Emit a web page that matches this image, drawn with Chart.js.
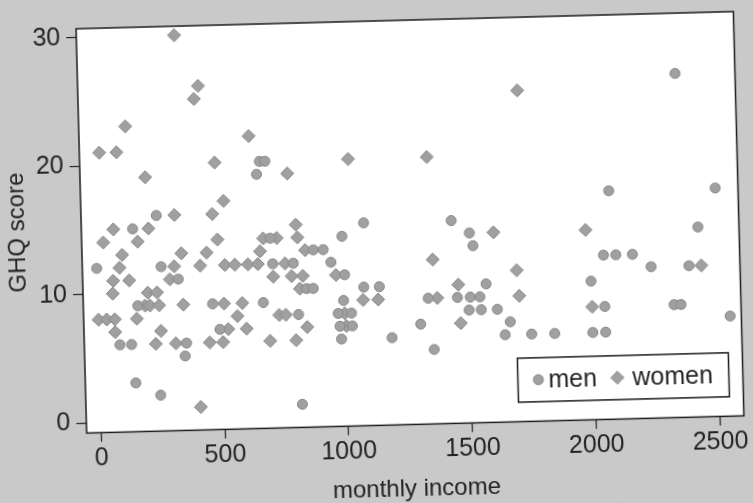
<!DOCTYPE html>
<html>
<head>
<meta charset="utf-8">
<title>GHQ score by monthly income</title>
<script src="https://cdn.jsdelivr.net/npm/chart.js@4"></script>
<style>
  html, body { margin: 0; padding: 0; width: 753px; height: 503px; overflow: hidden; background: #c9c9c9; }
  #wrap { position: absolute; left: 0; top: 0; width: 753px; height: 503px; transform: rotate(-1.5deg); }
  canvas { display: block; }
</style>
</head>
<body>
<div id="wrap"><canvas id="chart" width="753" height="503"></canvas></div>
<script>
// Axis ticks
const xTicks = [0, 500, 1000, 1500, 2000, 2500];
const yTicks = [0, 10, 20, 30];

// Men: monthly income and GHQ score
const menIncome = [668, 690, 655, 246, 1082, 149, 703, 993, 876, 916, 946, 0, 260, 711, 794, 1000, 328,
  845, 872, 1076, 1139, 993, 162, 464, 669, 810, 970, 1024, 976, 1026, 491, 981, 86, 133, 355, 1185,
  348, 146, 245, 816, 2075, 2505, 1436, 1508, 1521, 2431, 2047, 2097, 2164, 2238, 2391, 1570, 1994,
  1335, 1453, 1505, 1544, 1499, 1548, 1613, 2047, 2327, 2355, 2552, 1302, 1664, 1354, 1642, 1749,
  1842, 1996, 2048, 2355];
const menGHQ = [20, 20, 19, 16, 15, 15, 14, 14, 13, 13, 12, 12, 12, 12, 12, 11, 11,
  10, 10, 10, 10, 9, 9, 9, 9, 8, 8, 8, 7, 7, 7, 6, 6, 6, 6, 6,
  5, 3, 2, 1, 17, 17, 15, 14, 13, 14, 12, 12, 12, 11, 11, 10, 10,
  9, 9, 9, 9, 8, 8, 8, 8, 8, 8, 7, 7, 7, 5, 6, 6,
  6, 6, 6, 26];

// Women: monthly income and GHQ score
const womenIncome = [337, 428, 410, 130, 22, 92, 205, 627, 487, 779, 1026, 519, 319, 472, 808, 71, 213,
  29, 168, 490, 675, 730, 813, 104, 343, 445, 661, 843, 92, 313, 418, 518, 558, 611, 651, 761, 965,
  65, 130, 294, 712, 786, 831, 818, 62, 204, 241, 1072, 1133, 191, 211, 248, 346, 510, 584, 732, 759,
  997, 563, 2, 35, 68, 157, 1002, 844, 525, 599, 68, 253, 693, 798, 231, 312, 449, 503, 406,
  1344, 1605, 1977, 1357, 2441, 1695, 1458, 1372, 1703, 1996, 1464, 1716];
const womenGHQ = [30, 26, 25, 23, 21, 21, 19, 22, 20, 19, 20, 17, 16, 16, 15, 15, 15,
  14, 14, 14, 14, 14, 14, 13, 13, 13, 13, 13, 12, 12, 12, 12, 12, 12, 12, 12, 11,
  11, 11, 11, 11, 11, 11, 10, 10, 10, 10, 9, 9, 9, 9, 9, 9, 9, 9, 8, 8,
  8, 8, 8, 8, 8, 8, 7, 7, 7, 7, 7, 7, 6, 6, 6, 6, 6, 6, 1,
  20, 14, 14, 12, 11, 11, 10, 9, 9, 8, 7, 25];

const toPoints = (xs, ys) => xs.map((x, i) => ({ x: x, y: ys[i] }));

const FONT = "'Liberation Sans', Arial, Helvetica, sans-serif";
const INK = '#232323';
const MARK_FILL = '#a0a0a0';
const MARK_EDGE = '#878787';

// White plotting region on the grey page
const plotBackground = {
  id: 'plotBackground',
  beforeDraw(chart) {
    const { ctx, chartArea: a } = chart;
    ctx.save();
    ctx.fillStyle = '#c9c9c9';
    ctx.fillRect(0, 0, chart.width, chart.height);
    ctx.fillStyle = '#ffffff';
    ctx.fillRect(a.left, a.top, a.right - a.left, a.bottom - a.top);
    ctx.restore();
  }
};

// Box around the plotting region
const plotFrame = {
  id: 'plotFrame',
  afterDatasetsDraw(chart) {
    const { ctx, chartArea: a } = chart;
    ctx.save();
    ctx.strokeStyle = '#1b1b1b';
    ctx.lineWidth = 1.5;
    ctx.strokeRect(a.left, a.top, a.right - a.left, a.bottom - a.top);
    ctx.restore();
  }
};

// Boxed legend inside the lower-right corner of the plot
const boxedLegend = {
  id: 'boxedLegend',
  afterDraw(chart) {
    const { ctx, chartArea: a } = chart;
    const w = 211, h = 44;
    const right = a.right - 14, bottom = a.bottom - 19.5;
    const left = right - w, top = bottom - h;
    const cy = top + h / 2;
    ctx.save();
    ctx.fillStyle = '#ffffff';
    ctx.fillRect(left, top, w, h);
    ctx.strokeStyle = '#1b1b1b';
    ctx.lineWidth = 1.5;
    ctx.strokeRect(left, top, w, h);
    ctx.font = '25px ' + FONT;
    ctx.textBaseline = 'middle';
    ctx.textAlign = 'left';
    const slots = [
      { marker: left + 20.5, text: left + 30.5 },
      { marker: left + 99.5, text: left + 114.5 }
    ];
    chart.data.datasets.forEach((ds, i) => {
      const s = slots[i];
      ctx.fillStyle = ds.backgroundColor;
      ctx.strokeStyle = ds.borderColor;
      ctx.lineWidth = ds.borderWidth;
      Chart.helpers.drawPoint(ctx, {
        pointStyle: ds.pointStyle, radius: ds.pointRadius, borderWidth: ds.borderWidth, rotation: 0
      }, s.marker, cy);
      ctx.fillStyle = INK;
      ctx.fillText(ds.label, s.text, cy + 1);
    });
    ctx.restore();
  }
};

new Chart(document.getElementById('chart'), {
  type: 'scatter',
  data: {
    datasets: [
      {
        label: 'men',
        data: toPoints(menIncome, menGHQ),
        pointStyle: 'circle',
        pointRadius: 5,
        backgroundColor: MARK_FILL,
        borderColor: MARK_EDGE,
        borderWidth: 1
      },
      {
        label: 'women',
        data: toPoints(womenIncome, womenGHQ),
        pointStyle: 'rectRot',
        pointRadius: 6.5,
        backgroundColor: MARK_FILL,
        borderColor: MARK_EDGE,
        borderWidth: 1
      }
    ]
  },
  options: {
    responsive: false,
    animation: false,
    devicePixelRatio: 1,
    layout: { padding: { left: 0, top: 17, right: 13.5, bottom: 0 } },
    plugins: { legend: { display: false }, tooltip: { enabled: false } },
    scales: {
      x: {
        type: 'linear',
        min: -58,
        max: 2597,
        afterBuildTicks: s => { s.ticks = xTicks.map(v => ({ value: v })); },
        afterFit: s => { s.height = 77.6; },
        ticks: {
          font: { family: FONT, size: 25 },
          color: INK,
          padding: 2,
          maxRotation: 0,
          autoSkip: false,
          callback: v => String(v)
        },
        grid: {
          drawOnChartArea: false,
          drawTicks: true,
          tickLength: 9,
          color: INK,
          lineWidth: 1.2
        },
        border: { display: false },
        title: {
          display: true,
          text: 'monthly income',
          color: INK,
          font: { family: FONT, size: 24, lineHeight: 1 },
          padding: { top: 0, bottom: 1 }
        }
      },
      y: {
        type: 'linear',
        min: -0.8,
        max: 30.7,
        afterBuildTicks: s => { s.ticks = yTicks.map(v => ({ value: v })); },
        afterFit: s => { s.width = 82; },
        ticks: {
          font: { family: FONT, size: 25 },
          color: INK,
          padding: 6,
          callback: v => String(v)
        },
        grid: {
          drawOnChartArea: false,
          drawTicks: true,
          tickLength: 10,
          color: INK,
          lineWidth: 1.2
        },
        border: { display: false },
        title: {
          display: true,
          text: 'GHQ score',
          color: INK,
          font: { family: FONT, size: 24, lineHeight: 1 },
          padding: { top: 6, bottom: 0 }
        }
      }
    }
  },
  plugins: [plotBackground, plotFrame, boxedLegend]
});
</script>
</body>
</html>
